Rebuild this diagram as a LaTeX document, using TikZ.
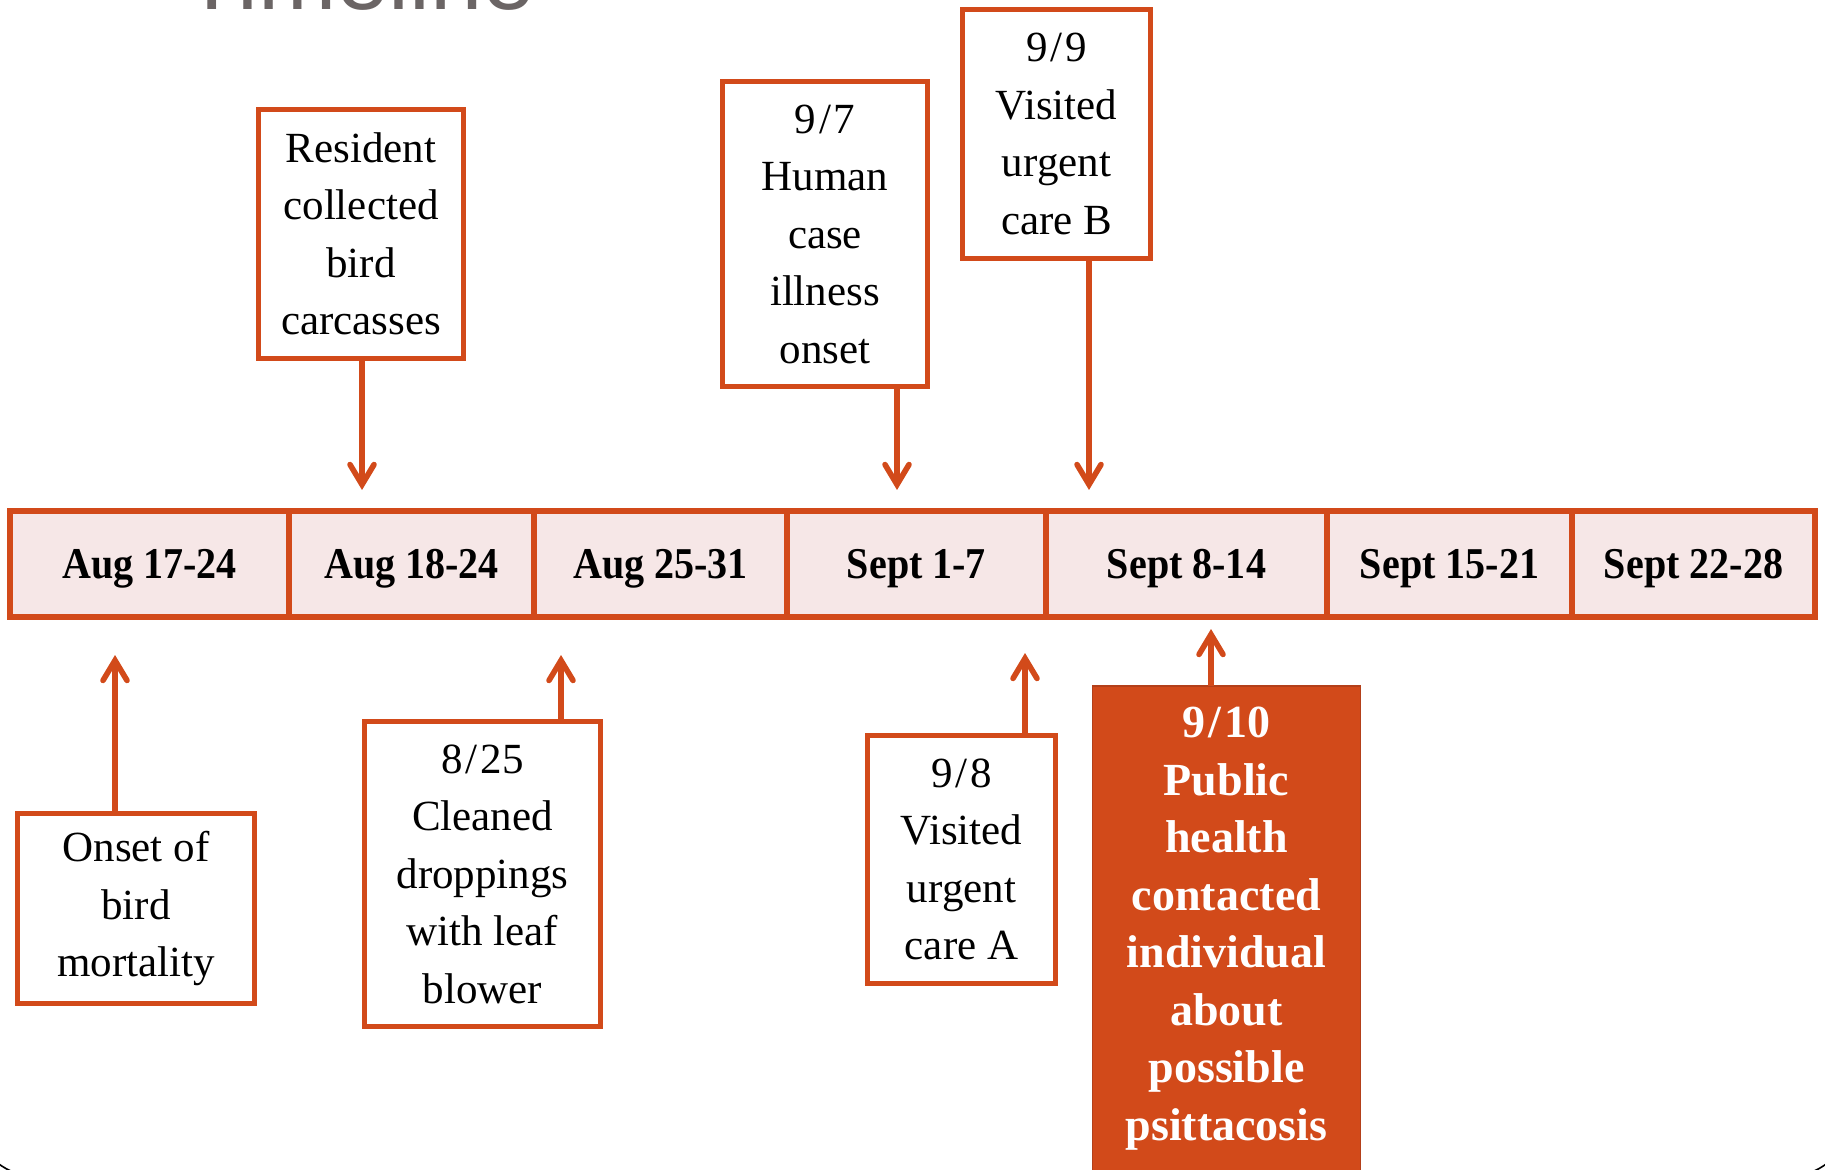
\documentclass[tikz,border=0pt]{standalone}
\usepackage{fontspec}
\setmainfont{Liberation Serif}
\newfontfamily\titlefont{Liberation Sans}
\usetikzlibrary{arrows.meta}

\definecolor{rust}{HTML}{D24A1A}
\definecolor{rustdark}{HTML}{B3401A}
\definecolor{blush}{HTML}{F6E7E7}
\definecolor{titlegray}{HTML}{6B6565}

% date with an airy slash
\newcommand{\dayslash}[2]{#1\kern1.5pt/\kern1.5pt#2}

\begin{document}
\begin{tikzpicture}[x=0.5pt,y=-0.5pt,
  cell/.style={draw=rust, line width=3pt, fill=blush, minimum height=53pt,
    inner sep=0pt, outer sep=0pt, anchor=west, text depth=0pt,
    font=\fontsize{22}{26}\selectfont\bfseries},
  event/.style={draw=rust, line width=2.8pt, fill=white, inner sep=0pt,
    outer sep=0pt, align=center, font=\fontsize{21.5}{28.75}\selectfont},
  keyevent/.style={draw=rustdark, line width=0.8pt, fill=rust, text=white,
    inner xsep=0pt, inner ysep=10.5pt, outer sep=0pt, align=center,
    minimum width=134pt, anchor=north,
    font=\fontsize{23}{28.75}\selectfont\bfseries},
  pointer/.style={draw=rust, line width=2.8pt,
    -{Straight Barb[length=10pt,width=12pt,line cap=round]}},
]
% page and background
\useasboundingbox (0,0) rectangle (1825,1170);
\fill[white] (0,0) rectangle (1825,1170);

% heading, mostly above the page
\node[anchor=base west, inner sep=0pt, text=titlegray,
  font=\titlefont\fontsize{47}{50}\selectfont] (title) at (183,9.5) {Timeline};

% slide frame corners
\draw[black, line width=0.8pt, rounded corners=30pt]
  (-25.1,-200) -- (-25.1,1176) -- (1850.1,1176) -- (1850.1,-200);

% week bar
\node[cell, minimum width=139.5pt] (w1) at (10,564) {\scalebox{0.91}[1]{Aug 17-24}};
\node[cell, minimum width=122.5pt] (w2) at (w1.east) {\scalebox{0.91}[1]{Aug 18-24}};
\node[cell, minimum width=126.5pt] (w3) at (w2.east) {\scalebox{0.91}[1]{Aug 25-31}};
\node[cell, minimum width=129.5pt] (w4) at (w3.east) {\scalebox{0.91}[1]{Sept 1-7}};
\node[cell, minimum width=140.5pt] (w5) at (w4.east) {\scalebox{0.91}[1]{Sept 8-14}};
\node[cell, minimum width=122.5pt] (w6) at (w5.east) {\scalebox{0.91}[1]{Sept 15-21}};
\node[cell, minimum width=121.5pt] (w7) at (w6.east) {\scalebox{0.91}[1]{Sept 22-28}};

% events above the bar
\node[event, minimum width=102.5pt, minimum height=124.5pt] (carcass) at (361,234)
  {Resident\\collected\\bird\\carcasses};
\node[event, minimum width=102.5pt, minimum height=152.5pt] (onset97) at (825,234)
  {\dayslash{9}{7}\\Human\\case\\illness\\onset};
\node[event, minimum width=94pt, minimum height=124.5pt] (careB) at (1056.5,134)
  {\dayslash{9}{9}\\Visited\\urgent\\care B};

% events below the bar
\node[event, minimum width=118.5pt, minimum height=95pt] (birds) at (136,908.5)
  {Onset of\\bird\\mortality};
\node[event, minimum width=118pt, minimum height=152.5pt] (cleaned) at (482.5,874)
  {\dayslash{8}{25}\\Cleaned\\droppings\\with leaf\\blower};
\node[event, minimum width=94pt, minimum height=124pt] (careA) at (961.5,859.5)
  {\dayslash{9}{8}\\Visited\\urgent\\care A};
\node[keyevent] (contact) at (1226.5,686)
  {\dayslash{9}{10}\\Public\\health\\contacted\\individual\\about\\possible\\psittacosis\\ \mbox{}};

% pointer tips on the bar
\coordinate (tCarcass) at (362,490);
\coordinate (tOnset) at (897,490);
\coordinate (tCareB) at (1089,490);
\coordinate (tBirds) at (115,655);
\coordinate (tCleaned) at (561,655);
\coordinate (tCareA) at (1025,653);
\coordinate (tContact) at (1211,629);

\draw[pointer] (carcass.south -| tCarcass) -- (tCarcass);
\draw[pointer] (onset97.south -| tOnset) -- (tOnset);
\draw[pointer] (careB.south -| tCareB) -- (tCareB);
\draw[pointer] (birds.north -| tBirds) -- (tBirds);
\draw[pointer] (cleaned.north -| tCleaned) -- (tCleaned);
\draw[pointer] (careA.north -| tCareA) -- (tCareA);
\draw[pointer] (contact.north -| tContact) -- (tContact);
\end{tikzpicture}
\end{document}
